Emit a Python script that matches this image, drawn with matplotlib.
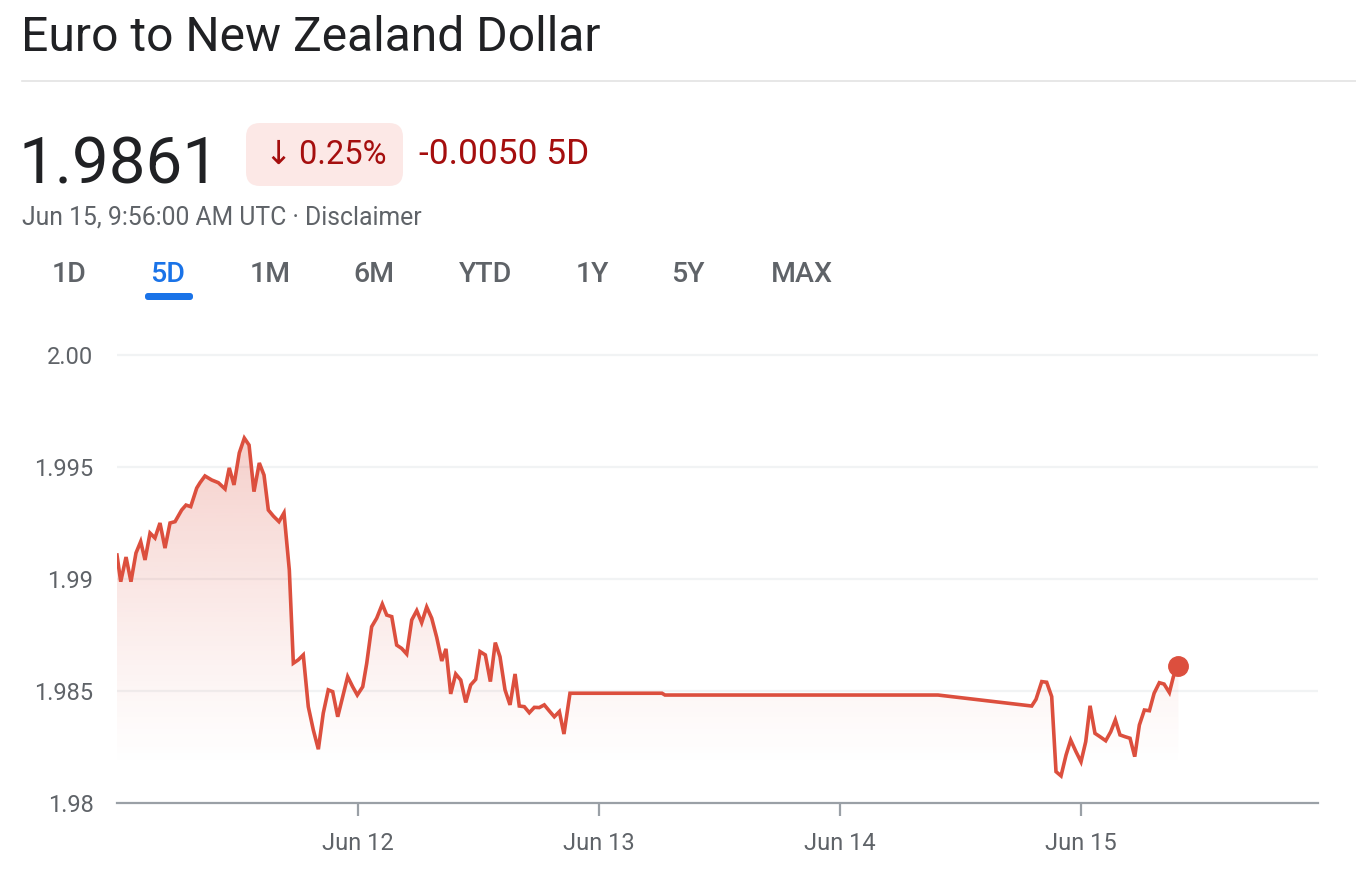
import numpy as np
import matplotlib
matplotlib.use("Agg")
import matplotlib.pyplot as plt
from matplotlib.patches import FancyBboxPatch, Polygon
from matplotlib.colors import to_rgb

plt.rcParams['font.family'] = ['Roboto', 'DejaVu Sans']

# hours since Jun 11 00:00 UTC, EUR/NZD rate
hours = [0.0, 0.37, 0.90, 1.39, 1.89, 2.36, 2.79, 3.29, 3.78, 4.28, 4.78, 5.28,
         5.78, 6.44, 6.87, 7.34, 7.94, 8.27, 8.76, 9.43, 10.09, 10.76, 11.18,
         11.65, 12.18, 12.68, 13.15, 13.64, 14.17, 14.64, 15.07, 15.57, 16.13,
         16.63, 17.16, 17.56, 18.05, 18.55, 19.05, 19.55, 20.05, 20.54, 21.04,
         21.48, 21.98, 22.48, 22.97, 23.47, 23.93, 24.47, 24.87, 25.36, 25.86,
         26.42, 26.86, 27.36, 27.85, 28.35, 28.85, 29.35, 29.85, 30.34, 30.84,
         31.34, 31.84, 32.34, 32.76, 33.23, 33.73, 34.23, 34.73, 35.22, 35.72,
         36.15, 36.68, 37.18, 37.67, 38.14, 38.64, 39.14, 39.64, 40.06, 40.56,
         41.06, 41.56, 42.05, 42.55, 43.05, 43.55, 44.05, 44.51, 45.11, 54.27,
         54.57, 81.76, 91.09, 91.52, 92.09, 92.58, 93.08, 93.51, 94.01, 94.51,
         94.97, 95.50, 96.00, 96.47, 96.90, 97.39, 97.89, 98.46, 98.96, 99.42,
         99.88, 100.38, 100.88, 101.35, 101.81, 102.31, 102.81, 103.28, 103.80,
         104.27, 104.80, 105.20, 105.70]
rates = [1.99107, 1.98988, 1.99098, 1.98988, 1.99116, 1.99167, 1.99085, 1.99205,
         1.99183, 1.99250, 1.99138, 1.99250, 1.99256, 1.99308, 1.99330, 1.99323,
         1.99406, 1.99430, 1.99460, 1.99442, 1.99430, 1.99402, 1.99496, 1.99420,
         1.99563, 1.99629, 1.99598, 1.99390, 1.99518, 1.99464, 1.99308, 1.99281,
         1.99256, 1.99295, 1.99040, 1.98624, 1.98639, 1.98661, 1.98430, 1.98326,
         1.98240, 1.98401, 1.98505, 1.98497, 1.98385, 1.98475, 1.98564, 1.98519,
         1.98482, 1.98519, 1.98624, 1.98787, 1.98825, 1.98888, 1.98839, 1.98832,
         1.98705, 1.98690, 1.98665, 1.98817, 1.98859, 1.98805, 1.98875, 1.98825,
         1.98739, 1.98634, 1.98688, 1.98487, 1.98576, 1.98549, 1.98449, 1.98527,
         1.98552, 1.98676, 1.98661, 1.98542, 1.98716, 1.98653, 1.98505, 1.98438,
         1.98576, 1.98433, 1.98430, 1.98403, 1.98427, 1.98426, 1.98438, 1.98411,
         1.98385, 1.98408, 1.98308, 1.98490, 1.98490, 1.98482, 1.98482, 1.98433,
         1.98463, 1.98542, 1.98539, 1.98475, 1.98140, 1.98121, 1.98214, 1.98281,
         1.98229, 1.98184, 1.98274, 1.98434, 1.98311, 1.98296, 1.98278, 1.98318,
         1.98371, 1.98304, 1.98296, 1.98289, 1.98207, 1.98348, 1.98415, 1.98412,
         1.98490, 1.98537, 1.98531, 1.98493, 1.98564, 1.98610]

y_ticks = [1.98, 1.985, 1.99, 1.995, 2.00]
y_labels = ["1.98", "1.985", "1.99", "1.995", "2.00"]
x_ticks = [24, 48, 72, 96]
x_labels = ["Jun 12", "Jun 13", "Jun 14", "Jun 15"]
tabs = ["1D", "5D", "1M", "6M", "YTD", "1Y", "5Y", "MAX"]
tab_x = [69, 168, 270, 374, 486, 592, 688, 802]

title = "Euro to New Zealand Dollar"
price = "1.9861"
pct_change = "\u2193\u20090.25%"
abs_change = "-0.0050 5D"
stamp = "Jun 15, 9:56:00 AM UTC \u00b7 Disclaimer"

RED = "#dc4f3e"
DARKRED = "#a50e0e"
GRAY = "#5f6368"
W, H = 1356, 874

fig = plt.figure(figsize=(W / 100, H / 100), dpi=100)

# header drawn on an overlay axes in pixel coords
hdr = fig.add_axes([0, 0, 1, 1])
hdr.set_xlim(0, W)
hdr.set_ylim(H, 0)
hdr.axis("off")

hdr.text(21, 51, title, fontsize=34.6, color="#202124", va="baseline")
hdr.plot([22, W], [81, 81], color="#e3e3e3", lw=1.2)
hdr.text(19, 183, price, fontsize=47, color="#202124", va="baseline")
hdr.add_patch(FancyBboxPatch((246, 123), 157, 63,
                             boxstyle="round,pad=0,rounding_size=14",
                             fc="#fce8e6", ec="none"))
hdr.text(326, 155, pct_change, fontsize=23.5, color=DARKRED,
         ha="center", va="center")
hdr.text(419, 155, abs_change, fontsize=25.5, color=DARKRED, va="center")
hdr.text(22, 218, stamp, fontsize=17.8, color=GRAY, va="center")
for lab, x in zip(tabs, tab_x):
    c = "#1a73e8" if lab == "5D" else GRAY
    hdr.text(x, 274, lab, fontsize=20.5, color=c, ha="center", va="center",
             fontweight="medium")
hdr.add_patch(FancyBboxPatch((145, 293), 48, 7,
                             boxstyle="round,pad=0,rounding_size=3",
                             fc="#1a73e8", ec="none"))

# chart axes: bottom at 1.98 (px 803), a bit of room above 2.00 (px 355)
top_px = 340
ax = fig.add_axes([117 / W, (H - 803) / H, (1318 - 117) / W, (803 - top_px) / H])
ax.patch.set_alpha(0)
ymax = 1.98 + (803 - top_px) * 0.02 / 448

# gradient fill under the line
rgb = to_rgb(RED)
n = 256
grad = np.zeros((n, 1, 4))
grad[..., 0], grad[..., 1], grad[..., 2] = rgb
grad[:, 0, 3] = np.linspace(0.32, 0.0, n) ** 1.15
top = max(rates)
im = ax.imshow(grad, extent=[hours[0], hours[-1], 1.9815, top],
               aspect="auto", origin="upper", zorder=1)
verts = np.column_stack([np.r_[hours, hours[-1], hours[0]],
                         np.r_[rates, 1.98, 1.98]])
clip = Polygon(verts, closed=True, fc="none", ec="none")
ax.add_patch(clip)
im.set_clip_path(clip)

ax.plot(hours, rates, color=RED, lw=2.6, zorder=3, solid_joinstyle="miter")
ax.plot(hours[-1], rates[-1], "o", color=RED, ms=14, zorder=4)

ax.set_xlim(0, 119.6)
ax.set_ylim(1.98, ymax)
ax.set_yticks(y_ticks)
ax.set_yticklabels(y_labels)
ax.set_xticks(x_ticks)
ax.set_xticklabels(x_labels)
for y in y_ticks[1:]:
    ax.axhline(y, color="#f1f3f4", lw=1.6, zorder=0)
for s in ["top", "right", "left"]:
    ax.spines[s].set_visible(False)
ax.spines["bottom"].set_color("#9aa0a6")
ax.spines["bottom"].set_linewidth(1.6)
ax.tick_params(axis="y", length=0, pad=17, labelsize=17, labelcolor=GRAY)
ax.tick_params(axis="x", length=9, width=1.6, color="#9aa0a6", pad=12,
               labelsize=17, labelcolor=GRAY)

fig.savefig("out.png", dpi=100, facecolor="white")
